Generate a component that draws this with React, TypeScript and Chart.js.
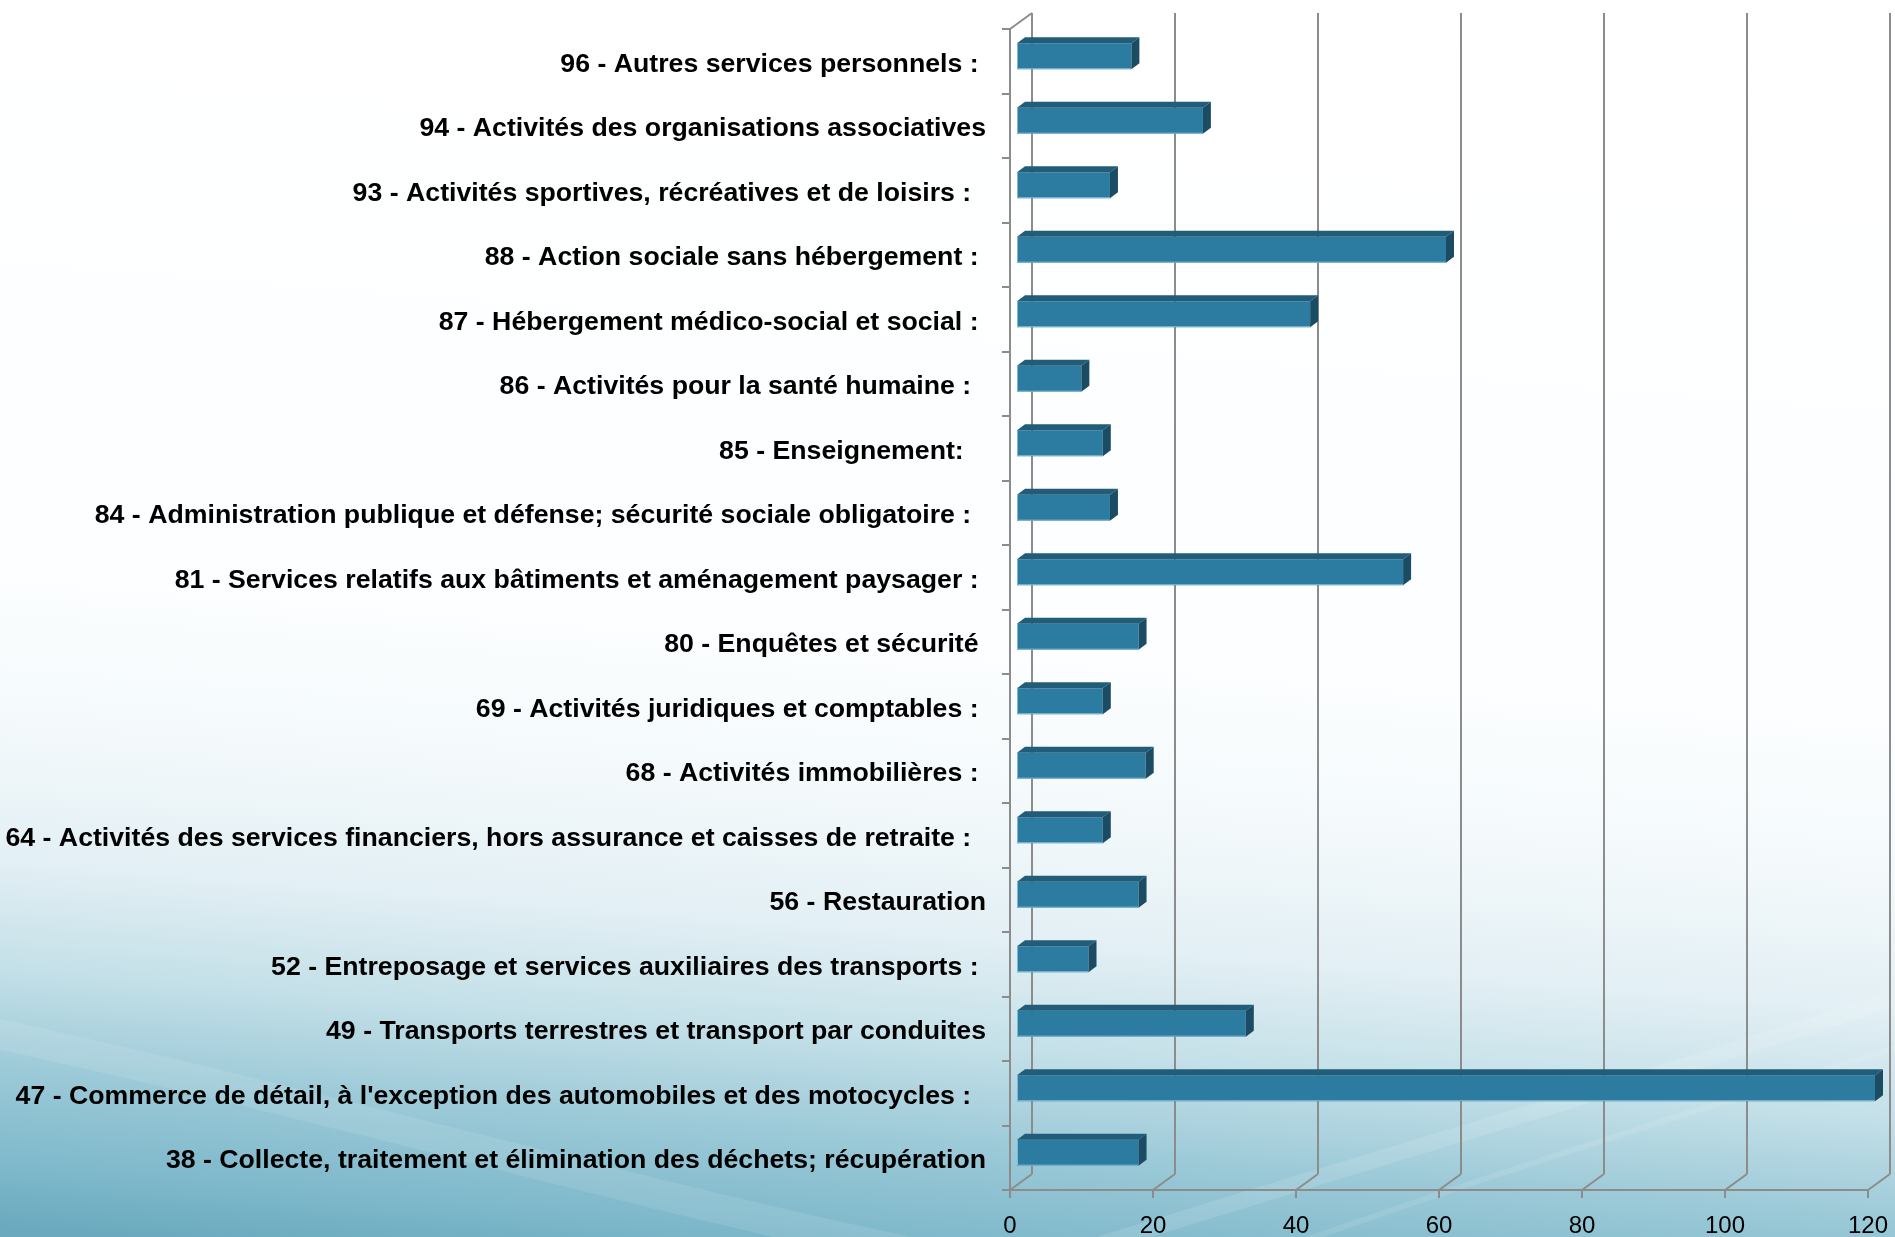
import React, { useEffect, useRef } from 'react';
import { Chart, registerables } from 'chart.js';

Chart.register(...registerables);

const categories: string[] = [
  '96 - Autres services personnels : ',
  '94 - Activités des organisations associatives',
  '93 - Activités sportives, récréatives et de loisirs :  ',
  '88 - Action sociale sans hébergement : ',
  '87 - Hébergement médico-social et social : ',
  '86 - Activités pour la santé humaine :  ',
  '85 - Enseignement:   ',
  '84 - Administration publique et défense; sécurité sociale obligatoire :  ',
  '81 - Services relatifs aux bâtiments et aménagement paysager : ',
  '80 - Enquêtes et sécurité ',
  '69 - Activités juridiques et comptables : ',
  '68 - Activités immobilières : ',
  '64 - Activités des services financiers, hors assurance et caisses de retraite :  ',
  '56 - Restauration',
  '52 - Entreposage et services auxiliaires des transports : ',
  '49 - Transports terrestres et transport par conduites',
  "47 - Commerce de détail, à l'exception des automobiles et des motocycles :  ",
  '38 - Collecte, traitement et élimination des déchets; récupération',
];

const values: number[] = [16, 26, 13, 60, 41, 9, 12, 13, 54, 17, 12, 18, 12, 17, 10, 32, 120, 17];

const xTicks: number[] = [0, 20, 40, 60, 80, 100, 120];

const FONT = '"Liberation Sans", Arial, Helvetica, sans-serif';
const WALL_DX = 22;
const WALL_DY = -16;
const BAR_SHIFT_X = 7;
const BAR_SHIFT_Y = -5;
const BAR_DX = 8;
const BAR_DY = -6;

const depthPlugin = {
  id: 'depth3d',
  beforeDraw(chart: any) {
    const ctx: CanvasRenderingContext2D = chart.ctx;
    const W = chart.width;
    const H = chart.height;
    ctx.save();
    // background
    const g = ctx.createLinearGradient(1000, 0, 897, 1300);
    g.addColorStop(0, '#ffffff');
    g.addColorStop(0.5, '#fcfeff');
    g.addColorStop(0.62, '#f3f9fb');
    g.addColorStop(0.72, '#e2eff4');
    g.addColorStop(0.8, '#c4e0e8');
    g.addColorStop(0.88, '#9bc9d7');
    g.addColorStop(0.95, '#7fb9cb');
    g.addColorStop(1, '#6aa9be');
    ctx.fillStyle = g;
    ctx.fillRect(0, 0, W, H);
    // soft swooshes
    ctx.lineCap = 'round';
    ctx.strokeStyle = 'rgba(255,255,255,0.10)';
    ctx.lineWidth = 30;
    ctx.beginPath();
    ctx.moveTo(-20, 1030);
    ctx.bezierCurveTo(350, 1110, 650, 1200, 950, 1260);
    ctx.stroke();
    ctx.strokeStyle = 'rgba(255,255,255,0.12)';
    ctx.lineWidth = 16;
    ctx.beginPath();
    ctx.moveTo(1050, 1260);
    ctx.bezierCurveTo(1400, 1150, 1650, 1080, 1920, 990);
    ctx.stroke();
    ctx.strokeStyle = 'rgba(255,255,255,0.10)';
    ctx.lineWidth = 6;
    ctx.beginPath();
    ctx.moveTo(1250, 1260);
    ctx.bezierCurveTo(1500, 1170, 1700, 1110, 1920, 1040);
    ctx.stroke();
    ctx.restore();

    // walls / grid
    const xs = chart.scales.x;
    const ys = chart.scales.y;
    const { left, right, top, bottom } = chart.chartArea;
    ctx.save();
    ctx.strokeStyle = '#8c8c8c';
    ctx.lineWidth = 2;
    ctx.lineCap = 'butt';
    ctx.beginPath();
    xTicks.forEach((v) => {
      const px = Math.round(xs.getPixelForValue(v));
      ctx.moveTo(px + WALL_DX, top + WALL_DY);
      ctx.lineTo(px + WALL_DX, bottom + WALL_DY);
      ctx.moveTo(px, bottom);
      ctx.lineTo(px + WALL_DX, bottom + WALL_DY);
      ctx.moveTo(px, bottom);
      ctx.lineTo(px, bottom + 8);
    });
    ctx.moveTo(left, bottom);
    ctx.lineTo(right, bottom);
    ctx.moveTo(left, top);
    ctx.lineTo(left, bottom);
    ctx.moveTo(left, top);
    ctx.lineTo(left + WALL_DX, top + WALL_DY);
    const n = categories.length;
    for (let i = 0; i <= n; i++) {
      const yb = Math.round(ys.getPixelForValue(i - 0.5));
      ctx.moveTo(left - 8, yb);
      ctx.lineTo(left, yb);
    }
    ctx.stroke();
    ctx.restore();
  },
  beforeDatasetsDraw(chart: any) {
    chart.ctx.save();
    chart.ctx.translate(BAR_SHIFT_X, BAR_SHIFT_Y);
  },
  afterDatasetsDraw(chart: any) {
    const ctx: CanvasRenderingContext2D = chart.ctx;
    const meta = chart.getDatasetMeta(0);
    meta.data.forEach((el: any) => {
      const p = el.getProps(['x', 'y', 'base', 'height'], true);
      const l = Math.min(p.base, p.x);
      const r = Math.max(p.base, p.x);
      const t = p.y - p.height / 2;
      const b = p.y + p.height / 2;
      ctx.strokeStyle = 'rgba(150,200,220,0.8)';
      ctx.lineWidth = 1;
      ctx.beginPath();
      ctx.moveTo(l + 0.5, t);
      ctx.lineTo(l + 0.5, b - 0.5);
      ctx.lineTo(r, b - 0.5);
      ctx.stroke();
      ctx.fillStyle = '#215c79';
      ctx.beginPath();
      ctx.moveTo(l, t);
      ctx.lineTo(l + BAR_DX, t + BAR_DY);
      ctx.lineTo(r + BAR_DX, t + BAR_DY);
      ctx.lineTo(r, t);
      ctx.closePath();
      ctx.fill();
      ctx.fillStyle = '#1c4c64';
      ctx.beginPath();
      ctx.moveTo(r, t);
      ctx.lineTo(r + BAR_DX, t + BAR_DY);
      ctx.lineTo(r + BAR_DX, b + BAR_DY);
      ctx.lineTo(r, b);
      ctx.closePath();
      ctx.fill();
    });
    ctx.restore();
  },
};

export default function App() {
  const ref = useRef<HTMLCanvasElement | null>(null);
  useEffect(() => {
    document.body.style.margin = '0';
    const canvas = ref.current;
    if (!canvas) return;
    const chart = new Chart(canvas, {
      type: 'bar',
      data: {
        labels: categories,
        datasets: [
          {
            data: values,
            backgroundColor: '#2c7ba0',
            borderWidth: 0,
            barPercentage: 0.4,
            categoryPercentage: 1,
          },
        ],
      },
      options: {
        indexAxis: 'y',
        animation: false,
        responsive: false,
        maintainAspectRatio: false,
        devicePixelRatio: 1,
        layout: { padding: { top: 29, right: 27, left: 0, bottom: 0 } },
        plugins: { legend: { display: false }, tooltip: { enabled: false } },
        scales: {
          x: {
            type: 'linear',
            min: 0,
            max: 120,
            afterBuildTicks: (s: any) => {
              s.ticks = xTicks.map((v) => ({ value: v }));
            },
            grid: { display: false, drawTicks: false },
            border: { display: false },
            ticks: {
              font: { family: FONT, size: 24 },
              color: '#000',
              padding: 22,
              maxRotation: 0,
              autoSkip: false,
            },
            afterFit: (s: any) => {
              s.height = 47;
              s.paddingLeft = 0;
              s.paddingRight = 0;
            },
          },
          y: {
            grid: { display: false, drawTicks: false },
            border: { display: false },
            ticks: {
              font: { family: FONT, size: 26.7, weight: 'bold' },
              color: '#000',
              padding: 24,
              labelOffset: 3,
              autoSkip: false,
            },
            afterFit: (s: any) => {
              s.width = 1010;
              s.paddingTop = 0;
              s.paddingBottom = 0;
            },
          },
        },
      },
      plugins: [depthPlugin],
    } as any);
    return () => chart.destroy();
  }, []);
  return (
    <div style={{ width: 1895, height: 1237, position: 'relative' }}>
      <canvas ref={ref} width={1895} height={1237} style={{ display: 'block', width: 1895, height: 1237 }} />
    </div>
  );
}
